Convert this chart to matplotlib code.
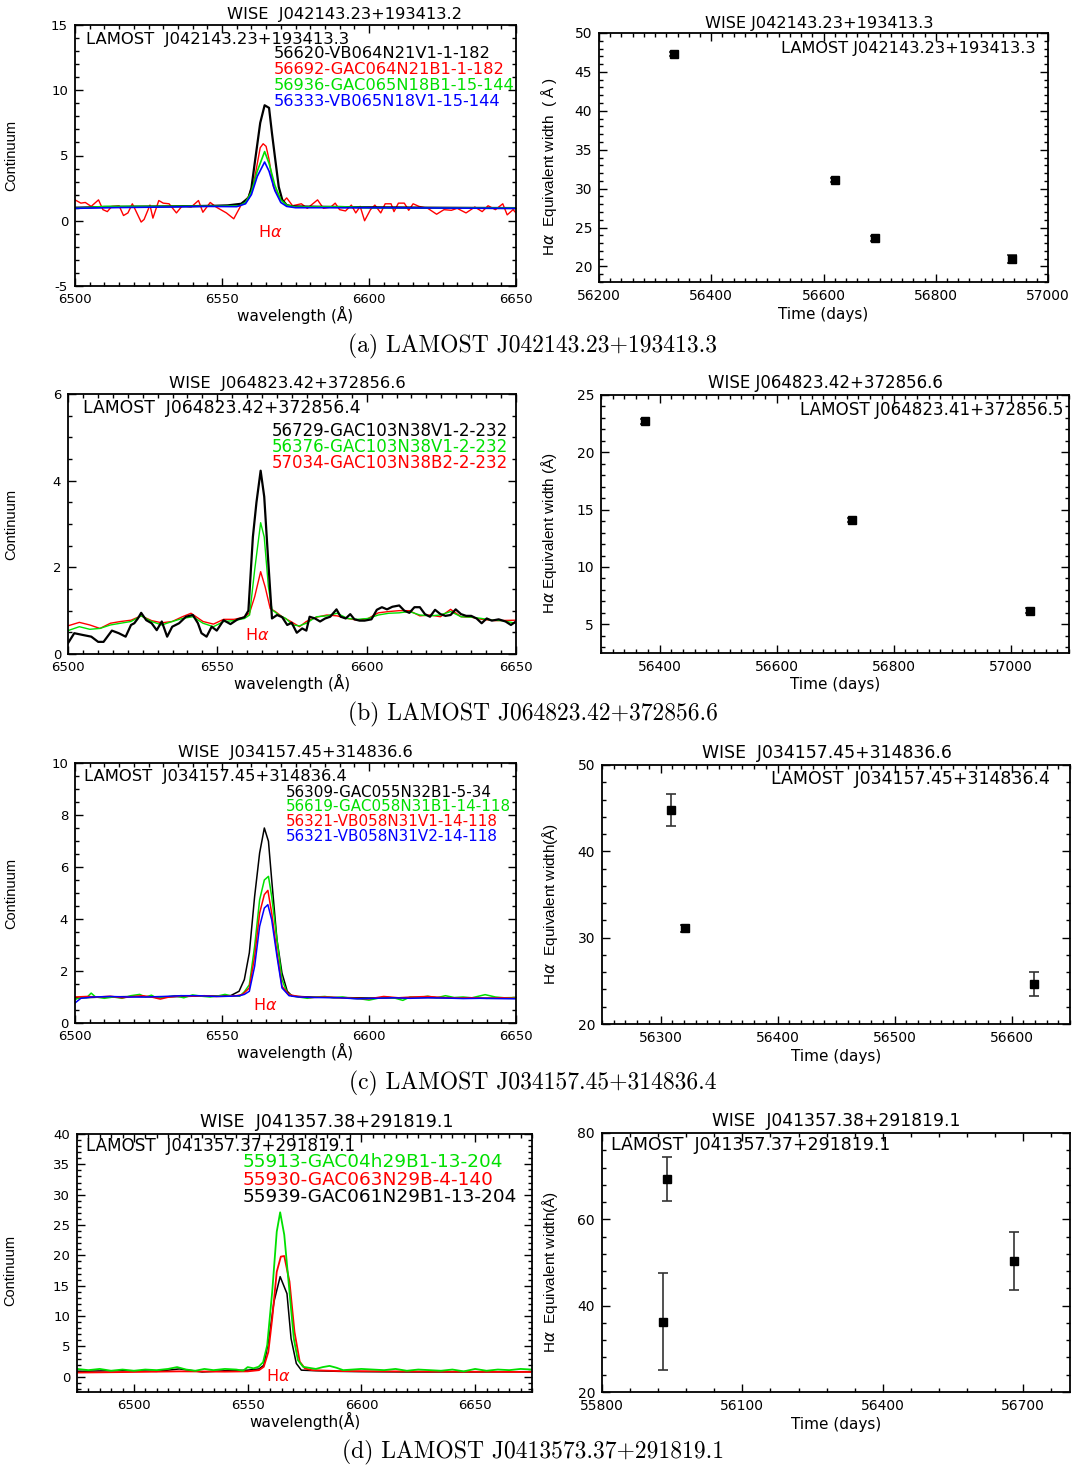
import matplotlib
matplotlib.use('Agg')
import matplotlib.pyplot as plt
from matplotlib.ticker import MultipleLocator

plt.rcParams['font.family'] = ['DejaVu Sans']
plt.rcParams['mathtext.fontset'] = 'dejavusans'
plt.rcParams['axes.unicode_minus'] = False

RED = '#ff0000'
GREEN = '#00e000'
BLUE = '#0000ff'

# ---------------- panel (a) spectra ----------------
wl_a_red = [6500, 6502, 6503.5, 6505.5, 6508, 6509.5, 6511, 6512.5, 6515, 6516.5, 6518, 6519.5,
            6520.5, 6522.5, 6523.5, 6525.5, 6526.5, 6528.5, 6530, 6532, 6534.5, 6536.5, 6539.5,
            6542, 6543.5, 6546, 6548, 6551.5, 6554, 6556.5, 6559, 6561, 6563, 6564, 6565, 6566,
            6567.5, 6569.5, 6571, 6572, 6574, 6577, 6579, 6582.5, 6584.5, 6587, 6588.5, 6590,
            6592, 6594, 6595.5, 6597, 6598.5, 6600.5, 6602, 6604, 6605.5, 6607.5, 6608.5, 6610,
            6612, 6613.5, 6615, 6617, 6620, 6623, 6625.5, 6628, 6630, 6633, 6636, 6638.5, 6640.5,
            6643, 6645.5, 6647, 6649, 6650]
fl_a_red = [1.6, 1.35, 1.4, 1.1, 1.6, 0.85, 0.7, 1.1, 1.15, 0.4, 0.6, 1.3,
            0.85, -0.1, 0.1, 1.2, 0.2, 1.55, 1.35, 1.3, 0.6, 1.15, 1.05,
            1.55, 0.65, 1.4, 1.05, 0.6, 0.15, 1.2, 1.85, 3.15, 5.6, 5.9, 5.7, 4.7,
            2.6, 1.75, 1.5, 1.75, 1.15, 1.3, 0.95, 1.6, 0.95, 1.05, 1.35, 0.85,
            0.75, 1.2, 0.6, 1.1, 0.0, 0.85, 1.2, 0.6, 1.3, 1.3, 0.7, 1.35,
            1.35, 0.8, 1.3, 1.1, 0.95, 0.5, 0.85, 0.8, 0.95, 0.6, 1.05, 0.7, 1.15,
            0.85, 1.3, 0.45, 0.85, 0.6]
wl_a_black = [6500, 6510, 6520, 6530, 6540, 6548, 6552, 6556.5, 6559, 6560, 6561, 6563, 6564.5,
              6566, 6567, 6568, 6569.3, 6570.5, 6572, 6574, 6580, 6590, 6600, 6610, 6620, 6630,
              6640, 6650]
fl_a_black = [1.0, 1.05, 1.08, 1.1, 1.12, 1.15, 1.18, 1.3, 1.75, 2.5, 4.2, 7.5, 8.85,
              8.65, 6.7, 4.9, 2.6, 1.6, 1.2, 1.1, 1.08, 1.05, 1.03, 1.02, 1.0, 0.99,
              0.98, 0.97]
wl_a_green = [6500, 6505, 6510, 6530, 6550, 6556, 6558, 6560, 6562, 6564.5, 6566, 6568, 6570,
              6572, 6575, 6590, 6600, 6650]
fl_a_green = [0.95, 1.02, 1.1, 1.1, 1.12, 1.15, 1.4, 2.2, 3.8, 5.3, 4.4, 2.7, 1.6,
              1.2, 1.05, 1.08, 1.0, 0.98]
wl_a_blue = [6500, 6510, 6530, 6545, 6555, 6558, 6560, 6562, 6564.5, 6566, 6568, 6570, 6572,
             6575, 6600, 6650]
fl_a_blue = [0.95, 1.0, 1.05, 1.1, 1.08, 1.3, 2.0, 3.4, 4.5, 3.8, 2.3, 1.4, 1.1,
             1.0, 1.0, 0.95]

# ---------------- panel (b) spectra ----------------
wl_b_black = [6500.0, 6502.1, 6504.9, 6507.8, 6510.1, 6511.9, 6514.7, 6517.0, 6519.3, 6521.1,
              6522.2, 6523.4, 6524.5, 6526.2, 6528.0, 6529.7, 6531.4, 6533.2, 6534.9, 6537.2,
              6539.5, 6541.8, 6543.5, 6544.7, 6546.4, 6548.1, 6549.8, 6552.1, 6554.4, 6556.8,
              6559.1, 6560.4, 6561.9, 6563.1, 6564.5, 6565.7, 6566.9, 6568.3, 6570.0, 6571.7,
              6573.4, 6574.9, 6576.6, 6578.4, 6579.8, 6580.9, 6582.7, 6584.4, 6586.1, 6587.8,
              6589.9, 6591.3, 6593.0, 6594.5, 6595.9, 6597.6, 6599.3, 6601.6, 6603.4, 6605.1,
              6606.8, 6608.6, 6610.9, 6612.6, 6614.3, 6616.0, 6617.8, 6619.5, 6621.2, 6622.9,
              6624.7, 6626.4, 6628.1, 6629.8, 6631.6, 6633.3, 6635.0, 6636.8, 6638.5, 6640.2,
              6641.9, 6644.2, 6646.5, 6648.3, 6650.0]
fl_b_black = [0.25, 0.48, 0.44, 0.40, 0.28, 0.28, 0.54, 0.48, 0.40, 0.67,
              0.71, 0.82, 0.95, 0.78, 0.71, 0.55, 0.75, 0.40, 0.63, 0.71,
              0.86, 0.90, 0.71, 0.48, 0.40, 0.63, 0.54, 0.78, 0.69, 0.80,
              0.85, 1.0, 2.7, 3.5, 4.23, 3.63, 2.3, 0.82, 0.90, 0.85,
              0.67, 0.72, 0.49, 0.59, 0.54, 0.86, 0.82, 0.75, 0.82, 0.86,
              1.03, 0.86, 0.82, 0.92, 0.80, 0.77, 0.77, 0.80, 1.02, 1.08,
              1.03, 1.09, 1.12, 1.00, 0.95, 1.08, 1.08, 0.92, 0.86, 1.02,
              0.92, 0.88, 0.90, 1.03, 0.92, 0.88, 0.88, 0.82, 0.71, 0.82,
              0.77, 0.80, 0.75, 0.67, 0.75]
wl_b_green = [6500, 6503.8, 6507.3, 6510.7, 6514.2, 6517.6, 6521.1, 6524.5, 6528.0, 6531.4,
              6534.9, 6538.3, 6541.8, 6545.2, 6548.7, 6552.1, 6555.6, 6559.1, 6560.8, 6562.5,
              6564.5, 6565.7, 6567.1, 6568.3, 6570.6, 6572.9, 6575.2, 6577.5, 6579.8, 6583.2,
              6586.7, 6590.1, 6593.6, 6597.0, 6600.5, 6603.9, 6607.4, 6610.9, 6614.3, 6617.8,
              6621.2, 6624.7, 6628.1, 6631.6, 6635.0, 6638.5, 6641.9, 6645.4, 6650]
fl_b_green = [0.54, 0.63, 0.57, 0.59, 0.67, 0.71, 0.75, 0.88, 0.75, 0.67,
              0.75, 0.82, 0.86, 0.71, 0.63, 0.75, 0.77, 0.82, 0.90, 1.94,
              3.03, 2.7, 1.55, 1.02, 0.90, 0.82, 0.67, 0.65, 0.71, 0.86,
              0.88, 0.94, 0.82, 0.80, 0.82, 0.90, 0.94, 0.95, 0.98, 0.90,
              0.88, 0.90, 0.98, 0.86, 0.85, 0.82, 0.78, 0.77, 0.71]
wl_b_red = [6500, 6503.8, 6507.3, 6510.7, 6514.2, 6517.6, 6521.1, 6524.5, 6528.0, 6531.4,
            6534.9, 6538.3, 6541.2, 6545.2, 6548.7, 6552.1, 6555.6, 6559.1, 6560.8, 6562.5,
            6564.5, 6566.0, 6567.7, 6569.4, 6571.7, 6574.6, 6577.5, 6579.8, 6583.2, 6586.7,
            6590.1, 6593.6, 6597.0, 6600.5, 6603.9, 6607.4, 6610.9, 6614.3, 6617.8, 6621.2,
            6624.7, 6628.1, 6631.6, 6635.0, 6638.5, 6643.1, 6650]
fl_b_red = [0.65, 0.73, 0.67, 0.59, 0.71, 0.75, 0.78, 0.88, 0.77, 0.72,
            0.75, 0.86, 0.94, 0.75, 0.69, 0.80, 0.80, 0.85, 0.95, 1.32,
            1.9, 1.55, 1.05, 0.98, 0.86, 0.75, 0.63, 0.75, 0.85, 0.90,
            0.88, 0.82, 0.78, 0.82, 0.95, 0.98, 1.0, 1.0, 0.88, 0.90,
            0.86, 1.03, 0.86, 0.85, 0.80, 0.77, 0.78]

# ---------------- panel (c) spectra ----------------
wl_c_black = [6500, 6510, 6520, 6530, 6540, 6548, 6552.9, 6555.8, 6557.6, 6559.3, 6561.1,
              6562.8, 6564.4, 6565.8, 6566.9, 6568.7, 6570.4, 6572.2, 6573.9, 6580, 6590,
              6600, 6610, 6620, 6630, 6640, 6650]
fl_c_black = [0.96, 1.0, 1.02, 1.0, 1.03, 1.04, 1.05, 1.22, 1.67, 2.7, 4.87,
              6.54, 7.5, 6.99, 5.51, 3.2, 1.92, 1.22, 1.03, 1.0, 0.98,
              0.96, 0.97, 0.98, 0.96, 0.95, 0.95]
wl_c_green = [6500, 6502, 6504, 6505.5, 6507, 6510, 6513, 6516, 6519, 6522, 6524, 6526, 6528,
              6531, 6534, 6537, 6540, 6543, 6546, 6549, 6551, 6553, 6556, 6557.6, 6559.3,
              6561.1, 6562.8, 6564.4, 6565.8, 6566.9, 6568.7, 6570.4, 6572.2, 6573.9, 6576,
              6579, 6582, 6585, 6588, 6591, 6594, 6597, 6600, 6603, 6606, 6609, 6611.5, 6614,
              6617, 6620, 6623, 6626, 6629, 6632, 6635, 6639.5, 6643, 6646, 6650]
fl_c_green = [0.9, 1.0, 0.98, 1.15, 1.0, 0.95, 1.0, 0.95, 1.05, 1.1, 1.0, 1.07, 0.95,
              1.0, 1.05, 0.97, 1.08, 1.03, 1.0, 1.05, 1.1, 1.05, 1.03, 1.2, 1.47,
              2.95, 4.74, 5.5, 5.64, 4.87, 3.2, 1.67, 1.15, 1.05, 1.0,
              0.95, 1.0, 1.02, 0.97, 1.0, 0.95, 0.93, 0.88, 0.95, 1.0, 0.95, 0.87, 1.0,
              0.98, 1.03, 0.97, 1.05, 0.98, 1.0, 0.97, 1.09, 1.0, 0.97, 0.98]
wl_c_red = [6500, 6504, 6508, 6512, 6516, 6520, 6523, 6526, 6529, 6532, 6536, 6540, 6544,
            6548, 6552, 6555, 6557, 6559.3, 6561.1, 6562.8, 6564.4, 6565.6, 6566.9, 6568.7,
            6570.4, 6572.8, 6576, 6580, 6585, 6590, 6595, 6600, 6605, 6610, 6615, 6620, 6625,
            6630, 6635, 6640, 6645, 6650]
fl_c_red = [1.0, 1.02, 1.0, 1.03, 0.97, 1.02, 1.05, 1.0, 0.92, 1.0, 1.05, 1.03, 1.05,
            1.02, 1.03, 1.05, 1.1, 1.35, 2.56, 4.23, 4.94, 5.1, 4.23, 2.7,
            1.41, 1.09, 1.02, 0.98, 1.0, 0.97, 0.95, 0.93, 1.02, 0.97, 1.0, 1.02, 0.98,
            0.96, 0.97, 0.95, 0.97, 0.95]
wl_c_blue = [6500, 6502, 6506, 6512, 6518, 6524, 6530, 6536, 6542, 6548, 6553, 6556, 6557.6,
             6559.3, 6561.1, 6562.8, 6564.4, 6565.6, 6566.9, 6568.7, 6570.4, 6572.8, 6576,
             6582, 6590, 6596, 6602, 6608, 6614, 6620, 6626, 6632, 6638, 6644, 6650]
fl_c_blue = [0.77, 0.95, 1.0, 1.02, 1.0, 1.0, 1.02, 1.05, 1.05, 1.02, 1.03, 1.05, 1.1,
             1.22, 2.18, 3.72, 4.42, 4.55, 3.97, 2.56, 1.35, 1.05, 1.0,
             0.98, 0.97, 0.93, 0.95, 0.97, 0.95, 0.97, 0.96, 0.94, 0.95, 0.94, 0.93]

# ---------------- panel (d) spectra ----------------
wl_d_green = [6475, 6480, 6485, 6490, 6495, 6500, 6505, 6510, 6515, 6519, 6523, 6527, 6531,
              6535, 6540, 6545, 6548, 6550, 6552.6, 6554.8, 6556.8, 6558.6, 6560.8, 6562.8,
              6564.3, 6566.1, 6568.4, 6570.3, 6572.1, 6574.4, 6576.7, 6580, 6583, 6586, 6589,
              6592, 6596, 6600, 6605, 6610, 6615, 6620, 6625, 6630, 6635, 6640, 6645, 6650,
              6655, 6660, 6665, 6670, 6675]
fl_d_green = [1.3, 1.1, 1.3, 1.0, 1.2, 1.0, 1.2, 1.1, 1.3, 1.6, 1.2, 1.0, 1.3,
              1.1, 1.3, 1.2, 1.0, 1.6, 1.4, 1.65, 2.4, 5.2, 14.0, 23.9,
              27.1, 23.4, 14.0, 6.3, 2.75, 1.65, 1.5, 1.3, 1.6, 1.8, 1.5,
              1.1, 1.2, 1.3, 1.2, 1.1, 1.3, 1.0, 1.2, 1.1, 1.0, 1.2, 0.9, 1.3,
              1.0, 1.2, 1.1, 1.3, 1.2]
wl_d_red = [6475, 6500, 6520, 6540, 6550, 6555, 6557.1, 6559.1, 6560.8, 6562.8, 6564.6, 6566.1,
            6568.4, 6570.6, 6572.9, 6575.2, 6578.2, 6590, 6610, 6640, 6675]
fl_d_red = [0.7, 0.8, 0.9, 0.85, 0.9, 1.1, 1.65, 4.1, 9.6, 17.3, 19.8, 19.9,
            15.7, 7.4, 2.5, 1.37, 1.1, 0.95, 0.9, 0.85, 0.8]
wl_d_black = [6475, 6490, 6500, 6510, 6520, 6530, 6540, 6550, 6555, 6557.1, 6559.4, 6561.6,
              6564.3, 6567.3, 6569.1, 6571.4, 6573.6, 6580, 6590, 6600, 6620, 6650, 6675]
fl_d_black = [0.9, 1.0, 1.0, 0.9, 1.3, 0.8, 1.0, 1.1, 1.3, 1.9, 6.3, 12.4,
              16.5, 13.7, 6.3, 2.2, 1.1, 1.0, 0.9, 0.85, 0.8, 0.8, 0.85]

# ---------------- H-alpha equivalent widths ----------------
mjd_a = [56333, 56620, 56692, 56936]
ew_a = [47.3, 31.1, 23.6, 21.0]
ew_a_err = [0.3, 0.3, 0.3, 0.5]
mjd_b = [56376, 56729, 57034]
ew_b = [22.7, 14.1, 6.2]
ew_b_err = [0.2, 0.2, 0.2]
mjd_c = [56309, 56321, 56619]
ew_c = [44.8, 31.1, 24.6]
ew_c_err = [1.85, 0.4, 1.4]
mjd_d = [55930, 55939, 56681]
ew_d = [36.3, 69.3, 50.3]
ew_d_err = [11.2, 5.1, 6.65]

# ---------------- texts ----------------
wise_left = ['WISE  J042143.23+193413.2', 'WISE  J064823.42+372856.6',
             'WISE  J034157.45+314836.6', 'WISE  J041357.38+291819.1']
wise_right = ['WISE J042143.23+193413.3', 'WISE J064823.42+372856.6',
              'WISE  J034157.45+314836.6', 'WISE  J041357.38+291819.1']
lamost_left = ['LAMOST  J042143.23+193413.3', 'LAMOST  J064823.42+372856.4',
               'LAMOST  J034157.45+314836.4', 'LAMOST  J041357.37+291819.1']
lamost_right = ['LAMOST J042143.23+193413.3', 'LAMOST J064823.41+372856.5',
                'LAMOST  J034157.45+314836.4', 'LAMOST  J041357.37+291819.1']
plates_a = ['56620-VB064N21V1-1-182', '56692-GAC064N21B1-1-182',
            '56936-GAC065N18B1-15-144', '56333-VB065N18V1-15-144']
plates_b = ['56729-GAC103N38V1-2-232', '56376-GAC103N38V1-2-232', '57034-GAC103N38B2-2-232']
plates_c = ['56309-GAC055N32B1-5-34', '56619-GAC058N31B1-14-118',
            '56321-VB058N31V1-14-118', '56321-VB058N31V2-14-118']
plates_d = ['55913-GAC04h29B1-13-204', '55930-GAC063N29B-4-140', '55939-GAC061N29B1-13-204']
ew_ylabels = [r'H$\alpha$  Equivalent width  ( Å )', r'H$\alpha$ Equivalent width (Å)',
              r'H$\alpha$  Equivalent width(Å)', r'H$\alpha$  Equivalent width(Å)']
wl_xlabels = ['wavelength (Å)', 'wavelength (Å)', 'wavelength (Å)', 'wavelength(Å)']
captions = ['(a) LAMOST J042143.23+193413.3', '(b) LAMOST J064823.42+372856.6',
            '(c) LAMOST J034157.45+314836.4', '(d) LAMOST J0413573.37+291819.1']

W, H = 1075, 1467
fig = plt.figure(figsize=(W / 100, H / 100), dpi=100)
fig.set_facecolor('w')


def px_axes(x0, x1, top, bottom):
    return fig.add_axes([x0 / W, 1 - bottom / H, (x1 - x0) / W, (bottom - top) / H])


def idl_style(ax, xmaj, xmin, ymaj, ymin, fs):
    ax.xaxis.set_major_locator(MultipleLocator(xmaj))
    ax.xaxis.set_minor_locator(MultipleLocator(xmin))
    ax.yaxis.set_major_locator(MultipleLocator(ymaj))
    ax.yaxis.set_minor_locator(MultipleLocator(ymin))
    ax.tick_params(which='both', direction='in', top=True, right=True, labelsize=fs,
                   width=1.0, pad=5)
    ax.tick_params(which='major', length=6)
    ax.tick_params(which='minor', length=3)
    for sp in ax.spines.values():
        sp.set_linewidth(1.3)


narrow = ['Liberation Sans Narrow', 'Liberation Sans', 'DejaVu Sans']

# positions (pixels): x0, x1, top, bottom
left_pos = [(75, 516, 25, 286), (68, 516, 394, 654), (75, 516, 763, 1023), (77, 532, 1134, 1392)]
right_pos = [(599, 1048, 33, 282), (601, 1069, 395, 653), (602, 1070, 765, 1024),
             (602, 1070, 1133, 1392)]
left_title_x = [0.61, 0.49, 0.5, 0.55]
right_title_x = [0.49, 0.48, 0.48, 0.5]
# text sizes differ a little from panel to panel
title_fs_left = [11.7, 11.8, 11.7, 12.6]
title_fs_right = [11.6, 12.0, 12.4, 12.3]
lamost_fs_left = [11.8, 12.4, 11.8, 12.1]
lamost_fs_right = [11.6, 12.1, 12.5, 12.5]
plate_fs = [11.7, 12.0, 10.9, 13.3]

spectra = [
    [(wl_a_red, fl_a_red, RED, 1.0), (wl_a_black, fl_a_black, 'k', 1.6),
     (wl_a_green, fl_a_green, GREEN, 1.2), (wl_a_blue, fl_a_blue, BLUE, 1.2)],
    [(wl_b_red, fl_b_red, RED, 1.0), (wl_b_green, fl_b_green, GREEN, 1.0),
     (wl_b_black, fl_b_black, 'k', 1.6)],
    [(wl_c_black, fl_c_black, 'k', 1.1), (wl_c_green, fl_c_green, GREEN, 1.1),
     (wl_c_red, fl_c_red, RED, 1.1), (wl_c_blue, fl_c_blue, BLUE, 1.1)],
    [(wl_d_black, fl_d_black, 'k', 1.1), (wl_d_red, fl_d_red, RED, 1.3),
     (wl_d_green, fl_d_green, GREEN, 1.3)],
]
plate_lists = [plates_a, plates_b, plates_c, plates_d]
plate_colors = [['k', RED, GREEN, BLUE], ['k', GREEN, RED], ['k', GREEN, RED, BLUE],
                [GREEN, RED, 'k']]
plate_x = [0.45, 0.455, 0.477, 0.363]
plate_y0 = [0.889, 0.858, 0.888, 0.89]
plate_dy = [0.061, 0.061, 0.057, 0.067]
lamost_xy = [(0.025, 0.946), (0.033, 0.945), (0.02, 0.949), (0.019, 0.953)]
halpha_xy = [(6566.3, -0.9), (6563.4, 0.44), (6564.8, 0.68), (6563.6, 0.15)]
spec_xlim = [(6500, 6650), (6500, 6650), (6500, 6650), (6475, 6675)]
spec_ylim = [(-5, 15), (0, 6), (0, 10), (-2.5, 40)]
spec_yticks = [(5, 1), (2, 0.5), (2, 0.5), (5, 1)]
cont_x = [-0.129, -0.111, -0.129, -0.131]
cont_y = [0.5, 0.5, 0.5, 0.47]

ew_data = [(mjd_a, ew_a, ew_a_err), (mjd_b, ew_b, ew_b_err), (mjd_c, ew_c, ew_c_err),
           (mjd_d, ew_d, ew_d_err)]
ew_xlim = [(56200, 57000), (56300, 57100), (56250, 56650), (55800, 56800)]
ew_ylim = [(18, 50), (2.5, 25), (20, 50), (20, 80)]
ew_xticks = [(200, 20), (200, 20), (100, 10), (300, 60)]
ew_yticks = [(5, 1), (5, 1), (10, 2), (20, 4)]
lamost_r_xy = [(0.972, 0.937, 'right'), (0.988, 0.943, 'right'), (0.958, 0.945, 'right'),
               (0.02, 0.952, 'left')]
caption_y = [346, 714, 1083, 1452]

for i in range(4):
    # spectrum panel
    ax = px_axes(*left_pos[i])
    for wl, fl, c, lw in spectra[i]:
        ax.plot(wl, fl, color=c, lw=lw)
    ax.set_xlim(*spec_xlim[i])
    ax.set_ylim(*spec_ylim[i])
    idl_style(ax, 50, 5, spec_yticks[i][0], spec_yticks[i][1], 9.5)
    ax.text(left_title_x[i], 1.01, wise_left[i], transform=ax.transAxes, ha='center',
            va='bottom', fontsize=title_fs_left[i])
    ax.text(lamost_xy[i][0], lamost_xy[i][1], lamost_left[i], transform=ax.transAxes,
            ha='left', va='center', fontsize=lamost_fs_left[i])
    for k, (lab, c) in enumerate(zip(plate_lists[i], plate_colors[i])):
        ax.text(plate_x[i], plate_y0[i] - k * plate_dy[i], lab, color=c,
                transform=ax.transAxes, ha='left', va='center', fontsize=plate_fs[i])
    ax.text(halpha_xy[i][0], halpha_xy[i][1], r'H$\alpha$', color=RED, ha='center',
            va='center', fontsize=11.5)
    ax.set_ylabel('Continuum', family=narrow, fontsize=10.5)
    ax.yaxis.set_label_coords(cont_x[i], cont_y[i])
    ax.set_xlabel(wl_xlabels[i], fontsize=11, va='center')
    ax.xaxis.set_label_coords(0.5, -29 / (left_pos[i][3] - left_pos[i][2]))

    # equivalent width panel
    ax2 = px_axes(*right_pos[i])
    t, ew, err = ew_data[i]
    ax2.errorbar(t, ew, yerr=err, fmt='s', color='k', ms=6, ecolor='#333333',
                 elinewidth=1.2, capsize=3.5, capthick=1.2)
    ax2.set_xlim(*ew_xlim[i])
    ax2.set_ylim(*ew_ylim[i])
    idl_style(ax2, ew_xticks[i][0], ew_xticks[i][1], ew_yticks[i][0], ew_yticks[i][1], 10)
    ax2.text(right_title_x[i], 1.01, wise_right[i], transform=ax2.transAxes, ha='center',
             va='bottom', fontsize=title_fs_right[i])
    lx, ly, ha = lamost_r_xy[i]
    ax2.text(lx, ly, lamost_right[i], transform=ax2.transAxes, ha=ha, va='center',
             fontsize=lamost_fs_right[i])
    ax2.set_ylabel(ew_ylabels[i], family=narrow, fontsize=11)
    ax2.yaxis.set_label_coords(-0.09, 0.465)
    ax2.set_xlabel('Time (days)', fontsize=11, va='center')
    ax2.xaxis.set_label_coords(0.5, -32 / (right_pos[i][3] - right_pos[i][2]))

    fig.text(533 / W, 1 - caption_y[i] / H, captions[i], ha='center', va='center',
             family=['cmr10', 'DejaVu Serif'], fontsize=17)

fig.savefig('out.png', dpi=100, facecolor='w')
